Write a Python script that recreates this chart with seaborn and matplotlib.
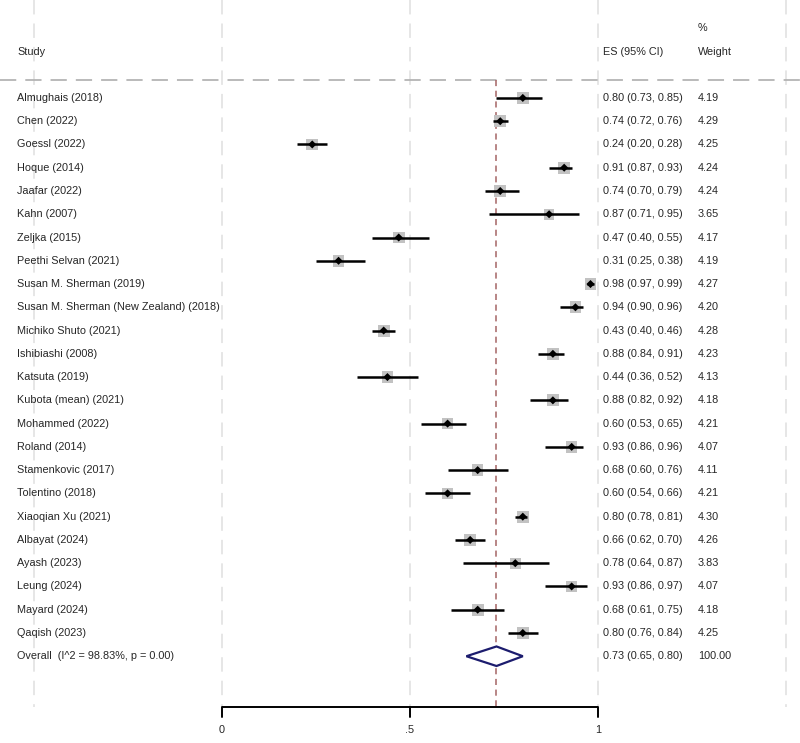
import numpy as np
import pandas as pd
import matplotlib.pyplot as plt
import seaborn as sns

# Study-level estimates
studies = ["Almughais (2018)", "Chen (2022)", "Goessl (2022)", "Hoque (2014)",
           "Jaafar (2022)", "Kahn (2007)", "Zeljka (2015)", "Peethi Selvan (2021)",
           "Susan M. Sherman (2019)", "Susan M. Sherman (New Zealand) (2018)",
           "Michiko Shuto (2021)", "Ishibiashi (2008)", "Katsuta (2019)",
           "Kubota (mean) (2021)", "Mohammed (2022)", "Roland (2014)",
           "Stamenkovic (2017)", "Tolentino (2018)", "Xiaoqian Xu (2021)",
           "Albayat (2024)", "Ayash (2023)", "Leung (2024)", "Mayard (2024)",
           "Qaqish (2023)"]
es = [0.80, 0.74, 0.24, 0.91, 0.74, 0.87, 0.47, 0.31, 0.98, 0.94, 0.43, 0.88,
      0.44, 0.88, 0.60, 0.93, 0.68, 0.60, 0.80, 0.66, 0.78, 0.93, 0.68, 0.80]
lo = [0.73, 0.72, 0.20, 0.87, 0.70, 0.71, 0.40, 0.25, 0.97, 0.90, 0.40, 0.84,
      0.36, 0.82, 0.53, 0.86, 0.60, 0.54, 0.78, 0.62, 0.64, 0.86, 0.61, 0.76]
hi = [0.85, 0.76, 0.28, 0.93, 0.79, 0.95, 0.55, 0.38, 0.99, 0.96, 0.46, 0.91,
      0.52, 0.92, 0.65, 0.96, 0.76, 0.66, 0.81, 0.70, 0.87, 0.97, 0.75, 0.84]
weight = [4.19, 4.29, 4.25, 4.24, 4.24, 3.65, 4.17, 4.19, 4.27, 4.20, 4.28, 4.23,
          4.13, 4.18, 4.21, 4.07, 4.11, 4.21, 4.30, 4.26, 3.83, 4.07, 4.18, 4.25]

# Pooled estimate
overall_label = "Overall  (I^2 = 98.83%, p = 0.00)"
overall_es, overall_lo, overall_hi = 0.73, 0.65, 0.80
overall_weight = "100.00"

xticks = [0, 0.5, 1]
xtick_labels = ["0", ".5", "1"]

df = pd.DataFrame({"study": studies, "es": es, "lo": lo, "hi": hi, "weight": weight})
df["row"] = np.arange(len(df))
n = len(df)

sns.set_style("white")
plt.rcParams["font.family"] = ["Liberation Sans", "DejaVu Sans"]
fs = 7.8

fig = plt.figure(figsize=(8, 7.43), dpi=100)
ax = fig.add_axes([0, 0, 1, 1])
ax.set_xlim(-0.5904, 1.5372)
ax.set_ylim(27.73, -4.21)
ax.axis("off")

axis_y = 26.18
header_line_y = -0.77

# light vertical grid
for gx in [-0.5, 0, 0.5, 1, 1.5]:
    ax.plot([gx, gx], [-4.21, axis_y], color="#e4e4e4", lw=1.3,
            dashes=(8, 5), zorder=0)

# header separator
ax.plot([-0.5904, 1.5372], [header_line_y, header_line_y], color="#b4b4b4",
        lw=1.3, dashes=(9, 5), zorder=1)

# overall effect line
ax.plot([overall_es, overall_es], [header_line_y, axis_y], color="#a46464",
        lw=1.1, dashes=(4, 3), zorder=1)

# confidence intervals
ax.hlines(df["row"], df["lo"], df["hi"], color="black", lw=1.8, zorder=3)

# weight boxes and point estimates
sns.scatterplot(data=df, x="es", y="row", size="weight", sizes=(58, 74),
                marker="s", color="#c2c2c2", edgecolor="none", legend=False,
                ax=ax, zorder=2)
sns.scatterplot(data=df, x="es", y="row", marker="D", s=17, color="black",
                edgecolor="none", legend=False, ax=ax, zorder=4)

# overall diamond
ax.fill([overall_lo, overall_es, overall_hi, overall_es],
        [n, n - 0.42, n, n + 0.42], facecolor="white", edgecolor="#1c1c6e",
        lw=1.6, zorder=4)

# text columns
x_lab, x_es, x_w = -0.545, 1.013, 1.266
ax.text(x_lab, -1.98, "Study", fontsize=fs, va="center")
ax.text(x_es, -1.98, "ES (95% CI)", fontsize=fs, va="center")
ax.text(x_w, -1.98, "Weight", fontsize=fs, va="center")
ax.text(x_w, -3.0, "%", fontsize=fs, va="center")

for _, r in df.iterrows():
    ax.text(x_lab, r["row"], r["study"], fontsize=fs, va="center")
    ax.text(x_es, r["row"], f"{r['es']:.2f} ({r['lo']:.2f}, {r['hi']:.2f})",
            fontsize=fs, va="center")
    ax.text(x_w, r["row"], f"{r['weight']:.2f}", fontsize=fs, va="center")

ax.text(x_lab, n, overall_label, fontsize=fs, va="center")
ax.text(x_es, n, f"{overall_es:.2f} ({overall_lo:.2f}, {overall_hi:.2f})",
        fontsize=fs, va="center")
ax.text(x_w, n, overall_weight, fontsize=fs, va="center")

# x axis
ax.plot([xticks[0], xticks[-1]], [axis_y, axis_y], color="black", lw=1.4,
        solid_capstyle="butt", zorder=3)
for t, lab in zip(xticks, xtick_labels):
    ax.plot([t, t], [axis_y, axis_y + 0.45], color="black", lw=1.4, zorder=3)
    ax.text(t, axis_y + 1.0, lab, fontsize=fs, ha="center", va="center")

fig.savefig("out.png", dpi=100, facecolor="white")
